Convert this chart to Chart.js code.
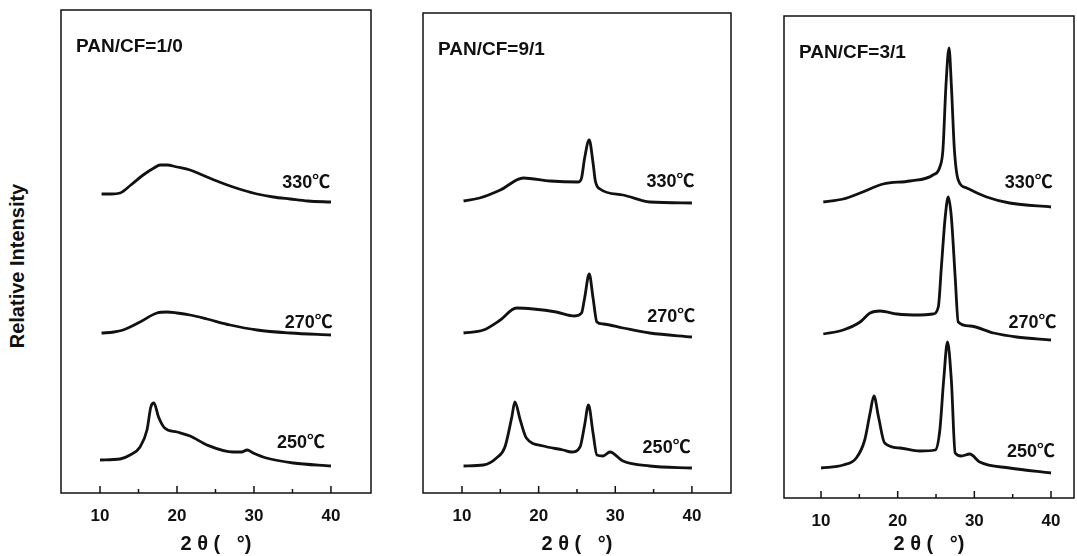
<!DOCTYPE html>
<html>
<head>
<meta charset="utf-8">
<script src="https://cdn.jsdelivr.net/npm/chart.js@4"></script>
<style>
  html, body { margin: 0; padding: 0; background: #fff; width: 1077px; height: 556px; overflow: hidden; }
  .panel { position: absolute; top: 0; }
  #ylab {
    position: absolute; left: 17px; top: 266px;
    transform: translate(-50%, -50%) rotate(-90deg);
    font: bold 20px "Liberation Sans", Arial, sans-serif;
    white-space: nowrap; color: #111;
  }
</style>
</head>
<body>
<div id="ylab">Relative Intensity</div>
<canvas id="chart-0" class="panel"></canvas>
<canvas id="chart-1" class="panel"></canvas>
<canvas id="chart-2" class="panel"></canvas>
<script>
const panelTitles = ['PAN/CF=1/0', 'PAN/CF=9/1', 'PAN/CF=3/1'];
const tempLabels = ['330℃', '270℃', '250℃'];
const xTicks = [10, 20, 30, 40];
const xMinorTicks = [15, 25, 35];

// [2theta, intensity (a.u.)]
const cf10_330 = [[10.2,299],[11.5,299],[12.6,300],[14.0,308],[15.6,318],[17.0,325],[17.8,328],[18.7,328],[20.0,326],[21.7,323],[23.9,316],[25.5,311],[26.9,307],[28.5,303],[30.4,299],[32.5,296],[34.7,294],[37.0,292],[40,291]];
const cf10_270 = [[10.2,160],[11.8,161],[13.0,163],[15.2,171],[17.4,180],[18.7,181],[20.0,180],[21.7,178],[23.9,174],[26.9,168],[30.4,163],[34.7,160],[40,158]];
const cf10_250 = [[10,33],[12.6,34],[13.9,38],[15.2,46],[16.1,63],[16.6,86],[17.0,90],[17.6,76],[18.4,65],[20,61],[21.7,57],[23.9,48],[27.3,41],[28.4,41],[29.1,43],[29.9,40],[31.6,35],[35.1,30],[40,27]];

const cf91_330 = [[10.2,292],[12.3,295],[15.0,303],[18.0,315],[21.5,312],[25.2,311],[25.6,315],[26.0,335],[26.6,353],[27.1,330],[27.4,312],[28.0,304],[31.0,298],[34.5,291],[40,290]];
const cf91_270 = [[10.2,160],[12.8,163],[15.0,173],[17.1,185],[19.3,184],[22.3,181],[24.7,177],[25.6,180],[26.0,195],[26.6,219],[27.1,195],[27.6,171],[28.4,169],[31.0,165],[34.5,160],[40,156]];
const cf91_250 = [[10.2,27],[12.8,28],[14.5,35],[15.6,46],[16.5,76],[16.9,91],[17.6,73],[18.4,55],[20.6,47],[23.2,43],[24.3,41],[25.4,46],[26.0,68],[26.5,88],[27.1,60],[27.6,38],[28.4,37],[29.3,41],[31,32],[34.5,27],[40,25]];

const cf31_330 = [[10.3,296],[12.9,299],[15.1,305],[18.1,314],[21.6,317],[24.6,323],[25.5,331],[25.9,348],[26.3,413],[26.7,450],[27.0,413],[27.4,348],[27.9,318],[29.0,310],[31.6,301],[34.6,295],[40,291]];
const cf31_270 = [[10.3,164],[12.9,168],[15.1,176],[16.4,185],[17.7,187],[19.9,184],[22.9,183],[24.6,184],[25.3,191],[25.7,231],[26.2,281],[26.6,301],[27.0,281],[27.5,221],[27.9,176],[29.4,172],[32.5,165],[35.5,161],[40,158]];
const cf31_250 = [[10,30],[12.9,33],[14.6,40],[15.7,58],[16.4,85],[16.9,102],[17.5,81],[18.3,55],[20.3,50],[22.9,47],[24.9,48],[25.5,68],[26.0,118],[26.5,156],[27.0,118],[27.5,45],[28.3,42],[29.4,44],[30.7,36],[34.6,30],[40,25]];

const H = 556;
const PAD = 10;
const FONT = '"Liberation Sans", Arial, "Noto Sans CJK SC", sans-serif';

// frame boxes in page pixels and where the temperature labels sit (2theta, intensity)
const panels = [
  { left: 61, right: 371, top: 10, bottom: 493, xMin: 4.93, xMax: 45.2,
    series: [cf10_330, cf10_270, cf10_250], spots: [[36.8, 310], [37.1, 170], [36.1, 50]] },
  { left: 423, right: 731, top: 13, bottom: 493, xMin: 4.91, xMax: 45.1,
    series: [cf91_330, cf91_270, cf91_250], spots: [[37.2, 311], [37.3, 176], [36.7, 45]] },
  { left: 784, right: 1074, top: 16, bottom: 498, xMin: 5.17, xMax: 43.0,
    series: [cf31_330, cf31_270, cf31_250], spots: [[37.1, 315], [37.6, 175], [37.4, 46]] }
];

const framePlugin = {
  id: 'frame',
  afterDraw(chart, args, opts) {
    const { ctx, chartArea: a, scales: { x, y } } = chart;
    ctx.save();
    ctx.strokeStyle = '#111';
    ctx.lineWidth = 1.5;
    ctx.strokeRect(a.left, a.top, a.right - a.left, a.bottom - a.top);

    // inward ticks on the bottom edge
    ctx.beginPath();
    xTicks.forEach(v => {
      const px = x.getPixelForValue(v);
      ctx.moveTo(px, a.bottom);
      ctx.lineTo(px, a.bottom - 7);
    });
    xMinorTicks.forEach(v => {
      const px = x.getPixelForValue(v);
      ctx.moveTo(px, a.bottom);
      ctx.lineTo(px, a.bottom - 4);
    });
    ctx.stroke();

    ctx.fillStyle = '#111';
    ctx.textBaseline = 'middle';
    ctx.font = 'bold 19px ' + FONT;
    ctx.fillText(opts.title, a.left + 15, a.top + 37);

    ctx.font = 'bold 18px ' + FONT;
    ctx.textAlign = 'center';
    opts.spots.forEach((s, i) => {
      ctx.fillText(tempLabels[i], x.getPixelForValue(s[0]), y.getPixelForValue(s[1]));
    });
    ctx.restore();
  }
};

function makeChart(i) {
  const p = panels[i];
  const canvas = document.getElementById(`chart-${i}`);
  const w = p.right - p.left + 2 * PAD;
  canvas.width = w;
  canvas.height = H;
  canvas.style.width = w + 'px';
  canvas.style.height = H + 'px';
  canvas.style.left = (p.left - PAD) + 'px';

  return new Chart(canvas, {
    type: 'line',
    data: {
      datasets: p.series.map((s, k) => ({
        label: tempLabels[k],
        data: s.map(([x, y]) => ({ x, y })),
        borderColor: '#111',
        borderWidth: 2.8,
        pointRadius: 0,
        fill: false,
        cubicInterpolationMode: 'monotone'
      }))
    },
    options: {
      responsive: false,
      animation: false,
      devicePixelRatio: 1,
      layout: { padding: { left: PAD, right: PAD, top: p.top, bottom: 0 } },
      scales: {
        x: {
          type: 'linear',
          min: p.xMin,
          max: p.xMax,
          afterBuildTicks: s => { s.ticks = xTicks.map(v => ({ value: v })); },
          afterFit: s => { s.height = H - p.bottom; },
          grid: { display: false, drawTicks: false },
          border: { display: false },
          ticks: { padding: 13, color: '#111', font: { family: FONT, size: 17, weight: 'bold' } },
          title: {
            display: true,
            text: '2 θ (   °)',
            color: '#111',
            font: { family: FONT, size: 20, weight: 'bold' },
            padding: { top: 0, bottom: 0 }
          }
        },
        y: { display: false, min: 0, max: p.bottom - p.top }
      },
      plugins: {
        legend: { display: false },
        tooltip: { enabled: false },
        frame: { title: panelTitles[i], spots: p.spots }
      }
    },
    plugins: [framePlugin]
  });
}

panels.forEach((p, i) => makeChart(i));
</script>
</body>
</html>
